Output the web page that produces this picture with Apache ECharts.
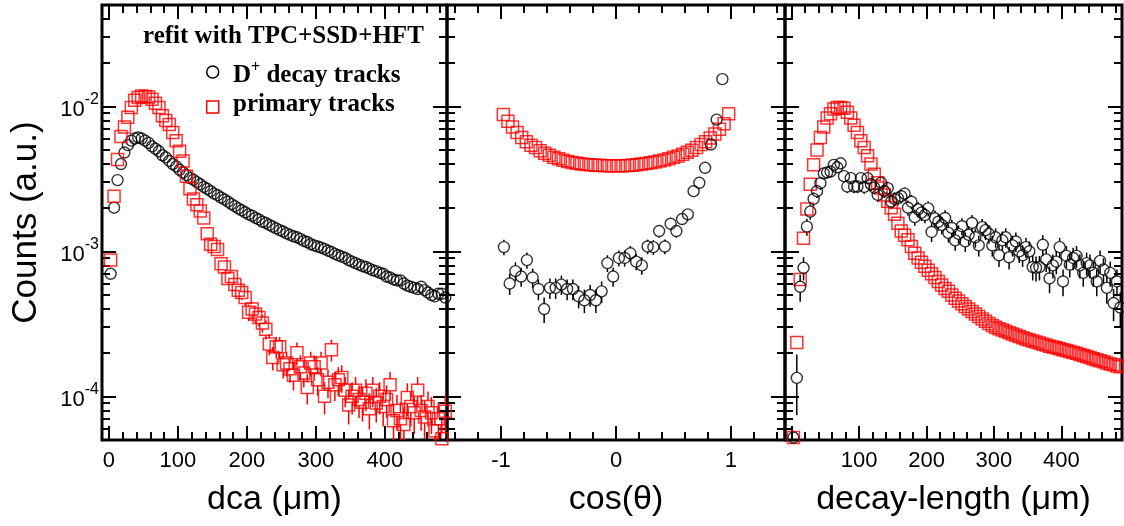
<!DOCTYPE html>
<html><head><meta charset="utf-8">
<script src="https://cdn.jsdelivr.net/npm/echarts@6/dist/echarts.min.js"></script>
<style>html,body{margin:0;padding:0;background:#fff}#c{width:1124px;height:526px}</style>
</head><body><div id="c"></div>
<script>
// ---------- DATA ----------
// histogram bin centres (5 um bins, 0.05 and 0.04 bins in cos)
const dcaBins = Array.from({length: 98}, (_, i) => 2.5 + 5 * i);
const dlBins = Array.from({length: 98}, (_, i) => 2.5 + 5 * i);
const cosBlackBins = Array.from({length: 39}, (_, i) => -0.975 + 0.05 * i);
const cosRedBins = Array.from({length: 50}, (_, i) => -0.98 + 0.04 * i);

const dcaBlack = [7.0e-4, 2.0e-3, 3.1e-3, 4.0e-3, 4.8e-3, 5.4e-3, 5.8e-3, 6.0e-3, 6.1e-3, 6.0e-3,
 5.8e-3, 5.6e-3, 5.3e-3, 5.1e-3, 4.9e-3, 4.6e-3, 4.45e-3, 4.2e-3, 4.0e-3, 3.85e-3,
 3.65e-3, 3.5e-3, 3.35e-3, 3.2e-3, 3.12e-3, 3.0e-3, 2.9e-3, 2.78e-3, 2.7e-3, 2.6e-3,
 2.5e-3, 2.44e-3, 2.35e-3, 2.28e-3, 2.2e-3, 2.12e-3, 2.05e-3, 1.98e-3, 1.92e-3, 1.86e-3,
 1.8e-3, 1.76e-3, 1.7e-3, 1.66e-3, 1.6e-3, 1.57e-3, 1.52e-3, 1.48e-3, 1.44e-3, 1.4e-3,
 1.37e-3, 1.33e-3, 1.3e-3, 1.27e-3, 1.25e-3, 1.22e-3, 1.18e-3, 1.16e-3, 1.12e-3, 1.1e-3,
 1.08e-3, 1.06e-3, 1.04e-3, 1.01e-3, 9.9e-4, 9.6e-4, 9.4e-4, 9.2e-4, 9.0e-4, 8.7e-4,
 8.5e-4, 8.3e-4, 8.1e-4, 7.9e-4, 7.8e-4, 7.6e-4, 7.4e-4, 7.3e-4, 7.1e-4, 7.0e-4,
 6.7e-4, 6.6e-4, 6.4e-4, 6.3e-4, 6.3e-4, 6.0e-4, 5.8e-4, 5.7e-4, 5.6e-4, 5.5e-4,
 5.7e-4, 5.4e-4, 5.2e-4, 5.0e-4, 4.9e-4, 5.1e-4, 5.1e-4, 4.8e-4];

const dcaRed = [8.7e-4, 2.4e-3, 4.3e-3, 6.2e-3, 7.2e-3, 8.4e-3, 9.8e-3, 1.1e-2, 1.15e-2, 1.18e-2,
 1.17e-2, 1.16e-2, 1.12e-2, 1.05e-2, 9.8e-3, 8.6e-3, 8.0e-3, 7.5e-3, 6.6e-3, 5.8e-3,
 4.9e-3, 4.2e-3, 3.3e-3, 2.7e-3, 2.3e-3, 2.1e-3, 1.9e-3, 1.7e-3, 1.32e-3, 1.12e-3,
 1.08e-3, 1.03e-3, 8.2e-4, 7.8e-4, 6.5e-4, 6.7e-4, 5.9e-4, 5.4e-4, 5.2e-4, 4.8e-4,
 3.8e-4, 4.0e-4, 3.7e-4, 3.5e-4, 3.2e-4, 2.9e-4, 2.3e-4, 1.85e-4, 2.2e-4, 2.2e-4,
 1.65e-4, 1.7e-4, 1.55e-4, 1.4e-4, 2.0e-4, 1.6e-4, 1.45e-4, 1.15e-4, 1.7e-4, 1.6e-4,
 1.3e-4, 1.7e-4, 1.0e-4, 1.25e-4, 2.1e-4, 1.2e-4, 1.3e-4, 1.35e-4, 1.1e-4, 8.7e-5,
 1.0e-4, 1.1e-4, 9.5e-5, 9.1e-5, 1.05e-4, 8.2e-5, 1.1e-4, 9.0e-5, 1.0e-4, 8.5e-5,
 9.5e-5, 1.2e-4, 6.8e-5, 8.0e-5, 7.0e-5, 6.4e-5, 9.8e-5, 8.5e-5, 7.7e-5, 1.1e-4,
 8.0e-5, 7.2e-5, 8.5e-5, 7.7e-5, 5.8e-5, 7.0e-5, 5.1e-5, 7.9e-5];
const dcaRedErr = [0, 0, 0, 0, 0, 0, 0, 0, 0, 0,
 0, 0, 0, 0, 0, 0, 0, 0, 0, 0,
 0, 0, 0, 0, 0, 0, 0, 0, 9.1e-5, 8.4e-5,
 8.2e-5, 8.0e-5, 7.2e-5, 7.0e-5, 6.4e-5, 6.5e-5, 6.1e-5, 5.8e-5, 5.7e-5, 5.5e-5,
 4.9e-5, 5.0e-5, 4.8e-5, 4.7e-5, 4.5e-5, 4.3e-5, 3.8e-5, 3.4e-5, 3.7e-5, 3.7e-5,
 3.2e-5, 3.3e-5, 3.1e-5, 3.0e-5, 3.5e-5, 3.2e-5, 3.0e-5, 2.7e-5, 3.3e-5, 3.2e-5,
 2.9e-5, 3.3e-5, 2.5e-5, 2.8e-5, 3.6e-5, 2.7e-5, 2.9e-5, 2.9e-5, 2.6e-5, 2.3e-5,
 2.5e-5, 2.6e-5, 2.4e-5, 2.4e-5, 2.6e-5, 2.3e-5, 2.6e-5, 2.4e-5, 2.5e-5, 2.3e-5,
 2.4e-5, 2.7e-5, 2.1e-5, 2.2e-5, 2.1e-5, 2.0e-5, 2.5e-5, 2.3e-5, 2.2e-5, 2.6e-5,
 2.2e-5, 2.1e-5, 2.3e-5, 2.2e-5, 1.9e-5, 2.1e-5, 1.8e-5, 2.2e-5];

const cosBlack = [1.07e-3, 6.0e-4, 7.3e-4, 6.7e-4, 8.7e-4, 6.6e-4, 5.5e-4, 4.0e-4, 5.6e-4, 5.6e-4,
 5.9e-4, 5.5e-4, 5.5e-4, 4.9e-4, 4.6e-4, 5.0e-4, 4.6e-4, 5.3e-4, 8.3e-4, 6.7e-4,
 9.0e-4, 9.0e-4, 9.7e-4, 8.5e-4, 8.0e-4, 1.08e-3, 1.07e-3, 1.38e-3, 1.08e-3, 1.55e-3,
 1.38e-3, 1.67e-3, 1.8e-3, 2.6e-3, 2.97e-3, 3.77e-3, 5.45e-3, 8.1e-3, 1.54e-2];
const cosBlackErr = [1.3e-4, 1.0e-4, 1.1e-4, 1.0e-4, 1.1e-4, 1.0e-4, 9e-5, 8e-5, 9e-5, 9e-5,
 9e-5, 9e-5, 9e-5, 8.5e-5, 8.5e-5, 8.5e-5, 8.5e-5, 9e-5, 1.1e-4, 1.0e-4,
 1.15e-4, 1.15e-4, 1.2e-4, 1.1e-4, 1.1e-4, 1.25e-4, 1.25e-4, 1.4e-4, 1.25e-4, 1.5e-4,
 1.4e-4, 1.5e-4, 1.6e-4, 1.9e-4, 2.0e-4, 2.3e-4, 2.8e-4, 3.4e-4, 4.7e-4];
const cosRed = [8.8e-3, 7.9e-3, 7.2e-3, 6.6e-3, 6.1e-3, 5.7e-3, 5.4e-3, 5.2e-3, 4.95e-3, 4.75e-3,
 4.6e-3, 4.45e-3, 4.35e-3, 4.25e-3, 4.17e-3, 4.1e-3, 4.05e-3, 4.0e-3, 3.97e-3, 3.95e-3,
 3.93e-3, 3.92e-3, 3.9e-3, 3.9e-3, 3.9e-3, 3.9e-3, 3.9e-3, 3.91e-3, 3.93e-3, 3.96e-3,
 4.0e-3, 4.04e-3, 4.08e-3, 4.13e-3, 4.2e-3, 4.27e-3, 4.35e-3, 4.45e-3, 4.55e-3, 4.68e-3,
 4.82e-3, 4.98e-3, 5.2e-3, 5.45e-3, 5.7e-3, 6.05e-3, 6.45e-3, 6.95e-3, 7.6e-3, 8.9e-3];

const dlBlack = [5.2e-5, 1.34e-4, 5.7e-4, 7.7e-4, 1.48e-3, 1.88e-3, 2.3e-3, 2.6e-3, 2.95e-3, 3.45e-3,
 3.5e-3, 3.55e-3, 3.95e-3, 3.8e-3, 4.05e-3, 3.3e-3, 2.8e-3, 3.2e-3, 2.8e-3, 2.8e-3,
 3.2e-3, 2.78e-3, 3.2e-3, 2.9e-3, 2.75e-3, 2.45e-3, 2.98e-3, 2.6e-3, 2.73e-3, 2.2e-3,
 2.3e-3, 2.33e-3, 2.4e-3, 2.5e-3, 2.0e-3, 2.2e-3, 1.72e-3, 1.95e-3, 1.85e-3, 1.78e-3,
 1.98e-3, 1.36e-3, 1.69e-3, 1.6e-3, 1.52e-3, 1.7e-3, 1.34e-3, 1.45e-3, 1.19e-3, 1.32e-3,
 1.49e-3, 1.17e-3, 1.3e-3, 1.57e-3, 1.25e-3, 1.1e-3, 1.47e-3, 1.4e-3, 1.32e-3, 1.1e-3,
 1.25e-3, 9.4e-4, 1.19e-3, 1.25e-3, 9.1e-4, 1.1e-3, 1.17e-3, 1.0e-3, 9.4e-4, 1.07e-3,
 1.0e-3, 7.8e-4, 7.7e-4, 7.8e-4, 1.11e-3, 8.8e-4, 6.5e-4, 8.0e-4, 8.5e-4, 1.07e-3,
 6.2e-4, 9.3e-4, 8.1e-4, 9.0e-4, 9.3e-4, 8.0e-4, 7.1e-4, 8.3e-4, 8.0e-4, 7.1e-4,
 6.2e-4, 8.6e-4, 7.5e-4, 5.6e-4, 7.1e-4, 4.4e-4, 6.2e-4, 4.1e-4];
const dlBlackErr = [0, 6.0e-5, 1.2e-4, 1.4e-4, 2.0e-4, 2.3e-4, 2.5e-4, 2.7e-4, 2.9e-4, 3.1e-4,
 3.1e-4, 3.2e-4, 3.3e-4, 3.3e-4, 3.4e-4, 3.0e-4, 2.8e-4, 3.0e-4, 2.8e-4, 2.8e-4,
 3.0e-4, 2.8e-4, 3.0e-4, 2.9e-4, 2.8e-4, 2.6e-4, 2.9e-4, 2.7e-4, 2.8e-4, 2.5e-4,
 2.5e-4, 2.6e-4, 2.6e-4, 2.6e-4, 2.4e-4, 2.5e-4, 2.2e-4, 2.3e-4, 2.3e-4, 2.2e-4,
 2.4e-4, 2.0e-4, 2.2e-4, 2.1e-4, 2.1e-4, 2.2e-4, 1.9e-4, 2.0e-4, 1.8e-4, 1.9e-4,
 2.0e-4, 1.8e-4, 1.9e-4, 2.1e-4, 1.9e-4, 1.8e-4, 2.0e-4, 2.0e-4, 1.9e-4, 1.8e-4,
 1.9e-4, 1.6e-4, 1.8e-4, 1.9e-4, 1.6e-4, 1.8e-4, 1.8e-4, 1.7e-4, 1.6e-4, 1.7e-4,
 1.7e-4, 1.5e-4, 1.5e-4, 1.5e-4, 1.8e-4, 1.6e-4, 1.35e-4, 1.5e-4, 1.55e-4, 1.7e-4,
 1.3e-4, 1.6e-4, 1.5e-4, 1.6e-4, 1.6e-4, 1.5e-4, 1.4e-4, 1.5e-4, 1.5e-4, 1.4e-4,
 1.3e-4, 1.55e-4, 1.45e-4, 1.25e-4, 1.4e-4, 1.1e-4, 1.3e-4, 1.1e-4];
const dlRed = [5.2e-5, 2.35e-4, 6.4e-4, 1.23e-3, 1.96e-3, 2.9e-3, 3.95e-3, 5.0e-3, 6.1e-3, 7.2e-3,
 8.3e-3, 8.9e-3, 9.6e-3, 9.8e-3, 9.8e-3, 9.7e-3, 9.1e-3, 8.3e-3, 7.4e-3, 6.6e-3,
 5.8e-3, 5.2e-3, 4.57e-3, 4.0e-3, 3.4e-3, 2.97e-3, 2.74e-3, 2.45e-3, 2.22e-3, 2.0e-3,
 1.8e-3, 1.56e-3, 1.38e-3, 1.29e-3, 1.2e-3, 1.08e-3, 9.7e-4, 9.0e-4, 8.4e-4, 7.9e-4,
 7.4e-4, 7.0e-4, 6.6e-4, 6.2e-4, 5.85e-4, 5.55e-4, 5.3e-4, 5.0e-4, 4.75e-4, 4.55e-4,
 4.35e-4, 4.17e-4, 4.0e-4, 3.85e-4, 3.7e-4, 3.55e-4, 3.42e-4, 3.3e-4, 3.18e-4, 3.08e-4,
 3.0e-4, 2.93e-4, 2.87e-4, 2.81e-4, 2.75e-4, 2.69e-4, 2.64e-4, 2.59e-4, 2.54e-4, 2.49e-4,
 2.45e-4, 2.41e-4, 2.37e-4, 2.33e-4, 2.29e-4, 2.26e-4, 2.22e-4, 2.19e-4, 2.16e-4, 2.13e-4,
 2.1e-4, 2.07e-4, 2.04e-4, 2.01e-4, 1.98e-4, 1.94e-4, 1.91e-4, 1.88e-4, 1.85e-4, 1.82e-4,
 1.79e-4, 1.76e-4, 1.73e-4, 1.7e-4, 1.67e-4, 1.65e-4, 1.62e-4, 1.6e-4];

// ---------- TICKS ----------
const umMajor = [0, 100, 200, 300, 400];
const umMinor = [20, 40, 60, 80, 120, 140, 160, 180, 220, 240, 260, 280, 320, 340, 360, 380, 420, 440, 460, 480];
const dcaLabels = [0, 100, 200, 300, 400];
const dlLabels = [100, 200, 300, 400];
const cosMajor = [-1, 0, 1];
const cosMinor = [-1.4, -1.2, -0.8, -0.6, -0.4, -0.2, 0.2, 0.4, 0.6, 0.8, 1.2, 1.4];
const yMajor = [1e-4, 1e-3, 1e-2];
const yMinor = [6e-5, 7e-5, 8e-5, 9e-5, 2e-4, 3e-4, 4e-4, 5e-4, 6e-4, 7e-4, 8e-4, 9e-4,
 2e-3, 3e-3, 4e-3, 5e-3, 6e-3, 7e-3, 8e-3, 9e-3, 2e-2, 3e-2, 4e-2];

// ---------- CHART ----------
const SANS = '"Liberation Sans", Arial, Helvetica, sans-serif';
const SERIF = '"Liberation Serif", "Times New Roman", serif';
const RED = '#ff0000';
const chart = echarts.init(document.getElementById('c'), null, {renderer: 'canvas'});

const grids = [
  {left: 102, top: 5, width: 345, height: 435},
  {left: 447, top: 5, width: 338, height: 435},
  {left: 785, top: 5, width: 337, height: 435}
];
const xCfg = [
  {min: -10, max: 490, major: umMajor, minor: umMinor, labels: dcaLabels, name: 'dca (\u03bcm)'},
  {min: -1.47, max: 1.47, major: cosMajor, minor: cosMinor, labels: cosMajor, name: 'cos(\u03b8)'},
  {min: -10, max: 490, major: umMajor, minor: umMinor, labels: dlLabels, name: 'decay-length (\u03bcm)'}
];

const tickLine = {color: '#000', width: 2};
const xAxis = [], yAxis = [];
xCfg.forEach((c, gi) => {
  const base = {type: 'value', gridIndex: gi, min: c.min, max: c.max,
    axisLine: {show: false, onZero: false}, splitLine: {show: false}, axisLabel: {show: false}};
  xAxis.push(Object.assign({}, base, {position: 'bottom',
    axisTick: {show: true, inside: true, length: 14, lineStyle: tickLine, customValues: c.major},
    axisLabel: {show: true, customValues: c.labels, fontSize: 22, fontFamily: SANS, color: '#000', margin: 10},
    name: c.name, nameLocation: 'middle', nameGap: 43,
    nameTextStyle: {fontSize: 34, fontFamily: SANS, color: '#000'}}));
  xAxis.push(Object.assign({}, base, {position: 'bottom',
    axisTick: {show: true, inside: true, length: 8, lineStyle: tickLine, customValues: c.minor}}));
  xAxis.push(Object.assign({}, base, {position: 'top',
    axisTick: {show: true, inside: true, length: 14, lineStyle: tickLine, customValues: c.major}}));
  xAxis.push(Object.assign({}, base, {position: 'top',
    axisTick: {show: true, inside: true, length: 8, lineStyle: tickLine, customValues: c.minor}}));

  const ybase = {type: 'log', logBase: 10, gridIndex: gi, min: 5e-5, max: 5e-2,
    axisLine: {show: false, onZero: false}, splitLine: {show: false}, axisLabel: {show: false}};
  const yMain = Object.assign({}, ybase, {position: 'left',
    axisTick: {show: true, inside: true, length: 14, lineStyle: tickLine, customValues: yMajor}});
  if (gi === 0) {
    yMain.axisLabel = {show: true, customValues: yMajor, margin: 3,
      formatter: v => '{b|10}{s|' + Math.round(Math.log10(v)) + '}',
      rich: {b: {fontSize: 22, fontFamily: SANS, color: '#000', verticalAlign: 'bottom', lineHeight: 30},
             s: {fontSize: 16, fontFamily: SANS, color: '#000', verticalAlign: 'top', lineHeight: 16}}};
    yMain.name = 'Counts (a.u.)';
    yMain.nameLocation = 'middle';
    yMain.nameGap = 58;
    yMain.nameTextStyle = {fontSize: 35, fontFamily: SANS, color: '#000'};
  }
  yAxis.push(yMain);
  yAxis.push(Object.assign({}, ybase, {position: 'left',
    axisTick: {show: true, inside: true, length: 8, lineStyle: tickLine, customValues: yMinor}}));
  yAxis.push(Object.assign({}, ybase, {position: 'right',
    axisTick: {show: true, inside: true, length: 14, lineStyle: tickLine, customValues: yMajor}}));
  yAxis.push(Object.assign({}, ybase, {position: 'right',
    axisTick: {show: true, inside: true, length: 8, lineStyle: tickLine, customValues: yMinor}}));
});

function pts(xs, ys) { return xs.map((x, i) => [x, ys[i]]); }

function scatter(gi, xs, ys, isRed) {
  return {type: 'scatter', xAxisIndex: gi * 4, yAxisIndex: gi * 4, data: pts(xs, ys),
    symbol: isRed ? 'rect' : 'circle', symbolSize: isRed ? 12 : 11, clip: false, silent: true, z: 3,
    itemStyle: {color: 'rgba(0,0,0,0)', borderColor: isRed ? RED : '#000', borderWidth: isRed ? 1.5 : 1.4},
    emphasis: {disabled: true}};
}

function errBars(gi, xs, ys, es, color, r) {
  const data = [];
  xs.forEach((x, i) => { if (es[i] > 0) data.push([x, ys[i], es[i]]); });
  return {type: 'custom', xAxisIndex: gi * 4, yAxisIndex: gi * 4, data, silent: true, z: 2,
    dimensions: ['x', 'y', 'e'], encode: {x: 0, y: 1},
    renderItem(params, api) {
      const x = api.value(0), y = api.value(1), e = api.value(2);
      const c = api.coord([x, y]);
      const hi = api.coord([x, y + e]);
      const lo = api.coord([x, Math.max(y - e, 1e-9)]);
      const cs = params.coordSys;
      const top = Math.max(hi[1], cs.y);
      const bot = Math.min(lo[1], cs.y + cs.height);
      const style = {stroke: color, lineWidth: 1.5};
      const children = [];
      if (c[1] - r > top) children.push({type: 'line', shape: {x1: c[0], y1: top, x2: c[0], y2: c[1] - r}, style});
      if (c[1] + r < bot) children.push({type: 'line', shape: {x1: c[0], y1: c[1] + r, x2: c[0], y2: bot}, style});
      return {type: 'group', children};
    }};
}

const series = [
  errBars(0, dcaBins, dcaRed, dcaRedErr, RED, 6),
  scatter(0, dcaBins, dcaBlack, false),
  scatter(0, dcaBins, dcaRed, true),
  errBars(1, cosBlackBins, cosBlack, cosBlackErr, '#000', 5.5),
  scatter(1, cosRedBins, cosRed, true),
  scatter(1, cosBlackBins, cosBlack, false),
  errBars(2, dlBins, dlBlack, dlBlackErr, '#000', 5.5),
  scatter(2, dlBins, dlRed, true),
  scatter(2, dlBins, dlBlack, false)
];

const option = {
  animation: false,
  backgroundColor: '#fff',
  grid: grids.map(g => Object.assign({show: true, borderColor: '#000', borderWidth: 3,
    backgroundColor: 'rgba(0,0,0,0)', containLabel: false}, g)),
  xAxis, yAxis, series,
  graphic: [
    {type: 'text', x: 143, y: 37, z: 10, style: {text: 'refit with TPC+SSD+HFT', fontSize: 25,
      fontWeight: 'bold', fontFamily: SERIF, fill: '#000', verticalAlign: 'middle'}},
    {type: 'circle', z: 10, shape: {cx: 212.7, cy: 72, r: 6}, style: {fill: 'none', stroke: '#000', lineWidth: 1.5}},
    {type: 'text', x: 233, y: 74, z: 10, style: {text: '{a|D}{s|+}{a| decay tracks}', verticalAlign: 'middle',
      rich: {a: {fontSize: 25, fontWeight: 'bold', fontFamily: SERIF, fill: '#000', color: '#000', verticalAlign: 'bottom', lineHeight: 29},
             s: {fontSize: 16, fontWeight: 'bold', fontFamily: SERIF, fill: '#000', color: '#000', verticalAlign: 'top', lineHeight: 16}}}},
    {type: 'rect', z: 10, shape: {x: 206.7, y: 101, width: 12, height: 12}, style: {fill: 'none', stroke: RED, lineWidth: 1.5}},
    {type: 'text', x: 233, y: 105, z: 10, style: {text: 'primary tracks', fontSize: 25,
      fontWeight: 'bold', fontFamily: SERIF, fill: '#000', verticalAlign: 'middle'}}
  ]
};
chart.setOption(option);
</script>
</body></html>
